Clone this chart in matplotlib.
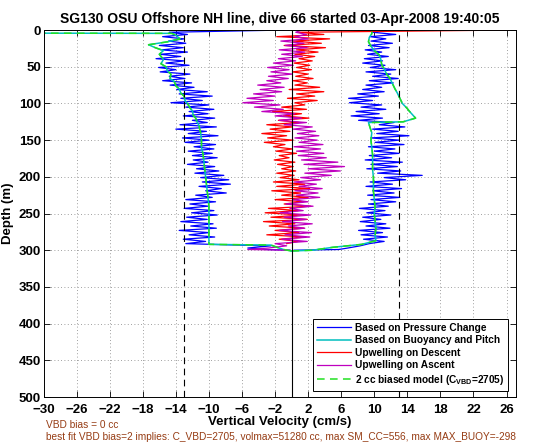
import numpy as np
import matplotlib
matplotlib.use("Agg")
import matplotlib.pyplot as plt

plt.rcParams['font.family'] = ['Liberation Sans', 'DejaVu Sans']
plt.rcParams['mathtext.fontset'] = 'custom'
plt.rcParams['mathtext.rm'] = 'Liberation Sans'
plt.rcParams['mathtext.bf'] = 'Liberation Sans:bold'

TITLE = "SG130 OSU Offshore NH line, dive 66 started 03-Apr-2008 19:40:05"
NOTE1 = "VBD bias = 0 cc"
NOTE2 = ("best fit VBD bias=2 implies: C_VBD=2705, volmax=51280 cc, "
         "max SM_CC=556, max MAX_BUOY=-298")

STEP = 3  # m between samples

# descent, depth 0..291 every 3 m (cm/s)
w_desc = [-1.0, -14.8, -12.6, -15.6, -13.0, -14.9, -12.8, -16.0, -13.1, -15.7,
          -12.6, -15.9, -13.4, -16.4, -13.0, -15.2, -12.4, -16.1, -14.0, -15.9,
          -12.3, -14.8, -12.9, -15.6, -12.1, -14.7, -11.8, -13.9, -10.2, -13.6,
          -9.6, -13.4, -10.8, -14.6, -10.0, -12.8, -9.4, -12.4, -10.1, -13.1,
          -9.3, -12.0, -10.2, -13.5, -9.1, -14.0, -10.3, -12.5, -8.9, -13.2,
          -10.0, -12.9, -9.2, -11.8, -9.4, -12.5, -9.6, -12.0, -9.0, -11.9,
          -10.1, -12.6, -9.3, -11.5, -8.8, -11.7, -8.2, -11.0, -7.6, -10.8,
          -7.4, -11.2, -8.5, -10.4, -7.9, -11.6, -9.6, -12.8, -9.2, -12.3,
          -10.1, -13.0, -9.4, -12.1, -9.0, -12.7, -10.2, -13.4, -9.5, -12.2,
          -9.1, -13.6, -10.0, -12.4, -9.3, -13.1, -10.4, -12.8]
w_desc_tail_depth = [293, 294, 297, 299, 300]
w_desc_tail = [-6.5, -2.5, -5.3, -3.0, -0.2]

up_desc = [26.4, 0.8, 3.9, -1.8, 4.6, 0.2, 3.6, -0.9, 4.1, 0.6,
           3.2, 0.4, 2.8, 0.9, 2.5, 0.3, 2.2, 0.6, 2.4, 0.1,
           2.0, 0.5, 2.6, 0.2, 1.9, 0.4, 3.4, -0.3, 3.9, 0.6,
           2.8, -0.5, 3.1, 0.4, 1.6, -1.2, 1.8, -2.3, 1.2, -1.0,
           2.1, -1.6, 0.9, -3.0, 0.1, -2.6, -0.2, -3.6, -0.6, -2.9,
           0.2, -3.3, -0.8, -2.2, 0.1, -1.9, 0.6, -1.5, -0.3, -2.1,
           0.4, -1.7, 0.2, -1.2, 0.5, -1.8, 0.3, -1.4, 0.9, -2.2,
           1.6, -1.8, 2.2, -2.4, 1.1, -1.2, 2.0, -2.0, 1.4, -0.9,
           2.3, -2.8, 0.8, -3.2, 1.2, -2.5, 1.9, -3.4, 0.4, -2.7,
           1.5, -2.0, 0.9, -3.0, 1.7, -1.5, 0.8, -0.6]

# ascent, depth 297..0 every 3 m
w_asc_head_depth = [300, 299]
w_asc_head = [0.3, 5.7]
w_asc = [6.8, 8.3, 9.4, 11.2, 8.7, 11.6, 8.4, 11.0, 8.1, 11.9,
         9.0, 11.4, 8.3, 10.8, 8.6, 12.0, 9.1, 11.3, 8.2, 11.7,
         9.3, 12.6, 9.6, 13.1, 9.2, 12.4, 9.8, 13.3, 9.0, 12.2,
         9.5, 13.8, 11.2, 15.8, 10.4, 13.2, 9.1, 12.8, 9.6, 13.4,
         8.9, 12.1, 9.4, 13.0, 10.0, 12.5, 9.3, 13.6, 10.1, 13.0,
         9.6, 14.2, 10.3, 12.9, 9.8, 13.7, 10.6, 12.4, 8.1, 11.0,
         7.2, 10.6, 7.8, 11.4, 8.4, 10.9, 7.0, 9.8, 6.9, 10.5,
         8.0, 11.2, 8.6, 10.9, 9.0, 12.3, 9.4, 12.9, 9.8, 12.0,
         9.0, 12.6, 9.5, 11.3, 8.6, 11.0, 8.8, 11.7, 9.2, 10.9,
         8.9, 11.8, 9.3, 12.2, 9.6, 11.4, 9.5, 12.6, 9.8, 11.5]

up_asc_head = [-0.2, -5.3]
up_asc = [-2.8, -0.6, -2.0, 1.9, -1.2, 2.2, -0.8, 2.4, -1.5, 1.6,
          -0.4, 2.5, -1.1, 1.8, -0.9, 2.3, -1.4, 1.4, -0.2, 2.6,
          -0.7, 2.0, 0.1, 3.4, 0.6, 3.2, 0.4, 3.7, 0.9, 3.0,
          0.3, 3.5, 1.1, 4.8, 1.6, 5.9, 2.0, 6.4, 1.5, 5.6,
          1.2, 4.2, 0.8, 3.9, 0.6, 3.5, 0.3, 3.8, 0.9, 3.1,
          0.4, 3.3, 0.7, 2.9, 0.2, 2.5, -0.9, 1.8, -1.5, 1.2,
          -2.0, 0.4, -3.6, -1.0, -4.5, -1.4, -5.9, -2.2, -5.4, -2.0,
          -4.6, -1.2, -3.8, -0.9, -4.1, -1.3, -3.0, -0.4, -2.8, 0.1,
          -2.5, -0.3, -2.9, 0.2, -2.2, 0.5, -1.6, 1.3, -1.2, 1.6,
          -1.5, 1.9, -0.8, 1.5, -1.3, 2.0, 0.4, 1.8, 0.5, 1.2]

# buoyancy / pitch model
model_desc_depth = [4, 4.5, 7, 12, 16, 20, 24, 28, 33, 40, 46, 50, 56, 60, 66,
                    70, 76, 80, 86, 90, 96, 100, 106, 110, 116, 120, 126, 130,
                    136, 140, 150, 160, 170, 180, 190, 200, 210, 220, 230, 240,
                    250, 260, 270, 280, 290, 292, 293, 299, 301]
model_desc = [-45, -14.5, -14.0, -13.5, -15.0, -17.3, -16.5, -15.5, -16.0,
              -15.5, -15.8, -15.2, -15.0, -14.6, -14.7, -14.2, -14.0, -13.6,
              -13.4, -13.0, -12.9, -12.6, -12.3, -12.0, -11.9, -11.6, -11.4,
              -11.2, -11.1, -11.0, -10.9, -10.9, -10.7, -10.6, -10.5, -10.4,
              -10.3, -10.2, -10.1, -10.0, -10.0, -10.0, -10.0, -10.0, -10.0,
              -10.0, -2.5, -1.0, 0.0]
model_asc_depth = [301, 300, 296, 292, 287, 280, 270, 260, 250, 242, 230, 220,
                   210, 201, 190, 180, 170, 160, 150, 140, 133, 126, 125, 120,
                   115, 110, 107, 100, 93, 86, 80, 73, 66, 60, 53, 47, 40, 34,
                   28, 22, 16, 10, 5, 2]
model_asc = [0.0, 2.5, 5.0, 8.5, 10.2, 10.1, 10.2, 10.1, 10.0, 10.1, 10.0, 9.9,
             9.9, 9.9, 9.8, 9.8, 9.8, 9.7, 9.6, 9.7, 9.5, 9.3, 13.5, 15.0, 14.6,
             14.2, 14.0, 13.4, 13.1, 12.8, 12.5, 12.2, 11.9, 11.5, 11.2, 10.9,
             10.8, 10.6, 10.0, 9.6, 9.3, 9.4, 9.7, 9.7]

x_ticks = list(range(-30, 27, 4))
y_ticks = list(range(0, 501, 50))
W_LIMIT = 13  # dashed guide lines

BLUE = '#0000ff'
BROWN = '#963c14'


def main():
	d_desc = np.arange(len(w_desc)) * STEP
	d_asc = 297 - np.arange(len(w_asc)) * STEP

	fig = plt.figure(figsize=(5.54, 4.42), dpi=100)
	ax = fig.add_axes([0.0787, 0.1018, 0.852, 0.8302])

	ax.plot(list(w_desc) + w_desc_tail, list(d_desc) + w_desc_tail_depth,
	        color=BLUE, lw=0.9, label='Based on Pressure Change')
	ax.plot(w_asc_head + list(w_asc), w_asc_head_depth + list(d_asc),
	        color=BLUE, lw=0.9)
	ax.plot(model_desc, model_desc_depth, color='c', lw=1.1,
	        label='Based on Buoyancy and Pitch')
	ax.plot(model_asc, model_asc_depth, color='c', lw=1.1)
	ax.plot(up_desc, d_desc, color='r', lw=0.9, label='Upwelling on Descent')
	ax.plot(up_asc_head + list(up_asc), w_asc_head_depth + list(d_asc),
	        color='m', lw=0.9, label='Upwelling on Ascent')
	ax.plot(model_desc, model_desc_depth, color='#22e022', lw=1.1,
	        dashes=(5, 3.5), label='2 cc biased model (C$_{\\mathbf{VBD}}$=2705)')
	ax.plot(model_asc, model_asc_depth, color='#22e022', lw=1.1, dashes=(5, 3.5))

	ax.axvline(0, color='k', lw=0.8)
	ax.axvline(-W_LIMIT, color='k', lw=0.8, dashes=(6, 4))
	ax.axvline(W_LIMIT, color='k', lw=0.8, dashes=(6, 4))

	ax.set_xlim(-30, 27.1)
	ax.set_ylim(500, 0)
	ax.set_xticks(x_ticks)
	ax.set_yticks(y_ticks)
	ax.grid(True, ls=(0, (1, 3)), color='0.5', lw=0.6)
	ax.tick_params(direction='in', top=True, right=True, length=4, width=0.6,
	               labelsize=9.5, pad=2)
	ax.tick_params(axis='x', pad=5)
	for lab in ax.get_xticklabels() + ax.get_yticklabels():
		lab.set_fontweight('bold')
	for sp in ax.spines.values():
		sp.set_linewidth(0.7)

	ax.set_title(TITLE, fontsize=10, fontweight='bold', pad=5)
	ax.set_xlabel('Vertical Velocity (cm/s)', fontsize=9.5, fontweight='bold',
	              labelpad=0)
	ax.set_ylabel('Depth (m)', fontsize=9.5, fontweight='bold', labelpad=3)

	leg = ax.legend(loc='lower right', bbox_to_anchor=(0.984, 0.017),
	                borderaxespad=0, prop={'weight': 'bold', 'size': 7.3},
	                fancybox=False, framealpha=1, edgecolor='k',
	                handlelength=3.3, handletextpad=0.4, labelspacing=0.25,
	                borderpad=0.4)
	leg.get_frame().set_linewidth(0.7)

	fig.text(46 / 554, 1 - 425 / 442, NOTE1, color=BROWN, fontsize=7.3,
	         va='center', ha='left')
	fig.text(46 / 554, 1 - 437 / 442, NOTE2, color=BROWN, fontsize=7.3,
	         va='center', ha='left')

	fig.savefig('out.png', dpi=100)


if __name__ == '__main__':
	main()
